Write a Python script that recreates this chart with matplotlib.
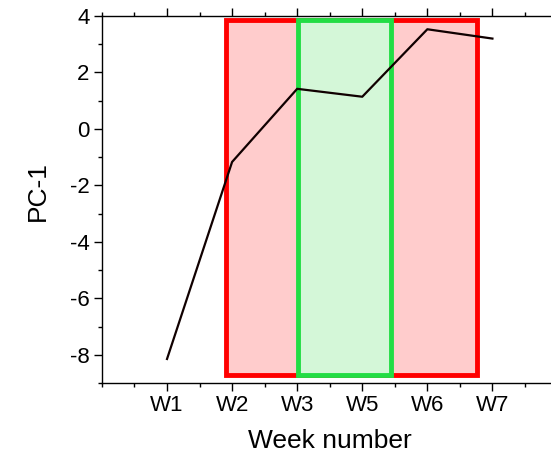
import matplotlib
matplotlib.use("Agg")
import matplotlib.pyplot as plt
from matplotlib.patches import Rectangle
from matplotlib.ticker import MultipleLocator

plt.rcParams['font.family'] = ['Liberation Sans', 'DejaVu Sans']
plt.rcParams['axes.unicode_minus'] = False

# weeks and PC-1 scores
weeks = ["W1", "W2", "W3", "W5", "W6", "W7"]
xpos = [1, 2, 3, 4, 5, 6]
pc1 = [-8.15, -1.17, 1.42, 1.14, 3.53, 3.2]

# shaded regions: (x0, x1, y0, y1)
red_boxes = [(1.9, 4.38, -8.73, 3.87), (4.38, 5.77, -8.73, 3.87)]
green_box = (3.02, 4.44, -8.72, 3.87)

fig = plt.figure(figsize=(5.51, 4.57), dpi=100)
ax = fig.add_axes([0.185, 0.162, 0.815, 0.803])

for x0, x1, y0, y1 in red_boxes:
    ax.add_patch(Rectangle((x0, y0), x1 - x0, y1 - y0, facecolor="#ffcccc",
                           edgecolor="#ff0000", linewidth=3.5, zorder=1))
x0, x1, y0, y1 = green_box
ax.add_patch(Rectangle((x0, y0), x1 - x0, y1 - y0, facecolor="#d4f7d8",
                       edgecolor="#22dd44", linewidth=3.5, zorder=2))

ax.plot(xpos, pc1, color="#100000", linewidth=1.6, zorder=3)

ax.set_xlim(0, 6.9)
ax.set_ylim(-9, 4)
ax.set_xticks(xpos)
ax.set_xticklabels(weeks)
ax.xaxis.set_minor_locator(MultipleLocator(0.5))
ax.set_yticks([-8, -6, -4, -2, 0, 2, 4])
ax.yaxis.set_minor_locator(MultipleLocator(1))

ax.spines['right'].set_visible(False)
for s in ['left', 'bottom', 'top']:
    ax.spines[s].set_linewidth(1.0)
ax.tick_params(axis='both', which='major', direction='out', length=6, width=1.0,
               labelsize=16, pad=3)
ax.tick_params(axis='both', which='minor', direction='out', length=3, width=1.0)
ax.tick_params(axis='x', top=True, which='both')

ax.set_xlabel("Week number", fontsize=19)
ax.set_ylabel("PC-1", fontsize=19)
ax.xaxis.set_label_coords(0.508, -0.125)
ax.yaxis.set_label_coords(-0.115, 0.522)

plt.savefig("out.png", dpi=100)
